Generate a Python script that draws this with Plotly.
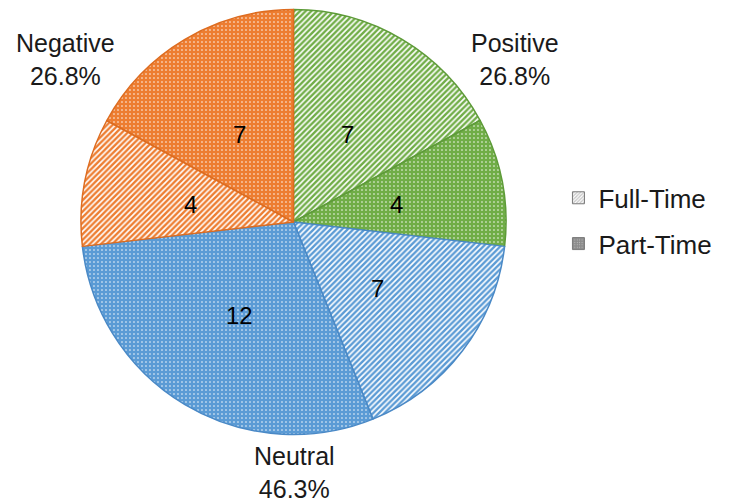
import math
import plotly.graph_objects as go

groups = ["Positive", "Neutral", "Negative"]
types = ["Full-Time", "Part-Time"]
slice_labels = ["Positive Full-Time", "Positive Part-Time",
                "Neutral Full-Time", "Neutral Part-Time",
                "Negative Full-Time", "Negative Part-Time"]
slice_values = [7, 4, 7, 12, 4, 7]

group_colors = {"Positive": "#70AD47", "Neutral": "#5B9BD5", "Negative": "#ED7D31"}
edge_colors = {"Positive": "#5E9B39", "Neutral": "#4A89C6", "Negative": "#DD6C20"}

W, H = 730, 502
CX, CY, R = 293.5, 222.0, 212.5  # pie centre/radius in px (from top-left)

total = sum(slice_values)
group_sums = [slice_values[2 * i] + slice_values[2 * i + 1] for i in range(3)]

fills, bgs, fgs, shapes, sols, edges = [], [], [], [], [], []
for i, lab in enumerate(slice_labels):
    g = groups[i // 2]
    c = group_colors[g]
    edges.append(edge_colors[g])
    if i % 2 == 0:  # Full-Time: hatched
        shapes.append("/")
        bgs.append("white")
        fgs.append(c)
        sols.append(0.6)
    else:  # Part-Time: dotted
        shapes.append(".")
        bgs.append(c)
        fgs.append("white")
        sols.append(0.12)
    fills.append(c)

fig = go.Figure()
fig.add_trace(go.Pie(
    labels=slice_labels,
    values=slice_values,
    sort=False,
    direction="clockwise",
    rotation=0,
    textinfo="none",
    marker=dict(
        colors=fills,
        line=dict(color=edges, width=1.5),
        pattern=dict(shape=shapes, bgcolor=bgs, fgcolor=fgs, size=4,
                     solidity=sols, fillmode="replace"),
    ),
    domain=dict(x=[(CX - R) / W, (CX + R) / W], y=[1 - (CY + R) / H, 1 - (CY - R) / H]),
    showlegend=False,
    hoverinfo="label+value+percent",
))

# value labels inside slices, at mid-angle of each slice (~half radius)
cum = 0
for v in slice_values:
    mid = (cum + v / 2) / total * 2 * math.pi
    cum += v
    r = 0.495 * R
    px = CX + r * math.sin(mid)
    py = CY - r * math.cos(mid)
    fig.add_annotation(
        x=px / W, y=1 - py / H, xref="paper", yref="paper",
        text=str(v), showarrow=False, yshift=-3,
        font=dict(family="Arial, Liberation Sans", size=24, color="black"),
        xanchor="center", yanchor="middle",
    )

# legend dummies
legend_shapes = ["/", "."]
legend_bg = ["white", "#8C8C8C"]
legend_fg = ["#8C8C8C", "white"]
legend_sol = [0.55, 0.15]
for j, t in enumerate(types):
    fig.add_trace(go.Bar(
        x=[None], y=[None], name=t, legendgroup=t,
        marker=dict(color="#8C8C8C", line=dict(color="#7A7A7A", width=1),
                    pattern=dict(shape=legend_shapes[j], bgcolor=legend_bg[j],
                                 fgcolor=legend_fg[j], size=3, solidity=legend_sol[j])),
        showlegend=True, hoverinfo="skip",
    ))

label_pos = {"Positive": (515, 59), "Neutral": (294, 472), "Negative": (65, 59)}
for g, s in zip(groups, group_sums):
    px, py = label_pos[g]
    fig.add_annotation(
        x=px / W, y=1 - py / H, xref="paper", yref="paper",
        text=f"{g}<br>{100 * s / total:.1f}%", showarrow=False,
        font=dict(family="Arial, Liberation Sans", size=25, color="#1a1a1a"),
        xanchor="center", yanchor="middle", align="center",
    )

fig.update_layout(
    width=W, height=H,
    margin=dict(l=0, r=0, t=0, b=0),
    paper_bgcolor="white", plot_bgcolor="white",
    xaxis=dict(visible=False, domain=[0.99, 1.0]),
    yaxis=dict(visible=False, domain=[0.99, 1.0]),
    legend=dict(x=0.765, y=0.56, xanchor="left", yanchor="middle",
                font=dict(family="Arial, Liberation Sans", size=26, color="#1a1a1a"),
                tracegroupgap=9, itemwidth=30, bgcolor="rgba(0,0,0,0)"),
)

fig.write_html("out.html")
